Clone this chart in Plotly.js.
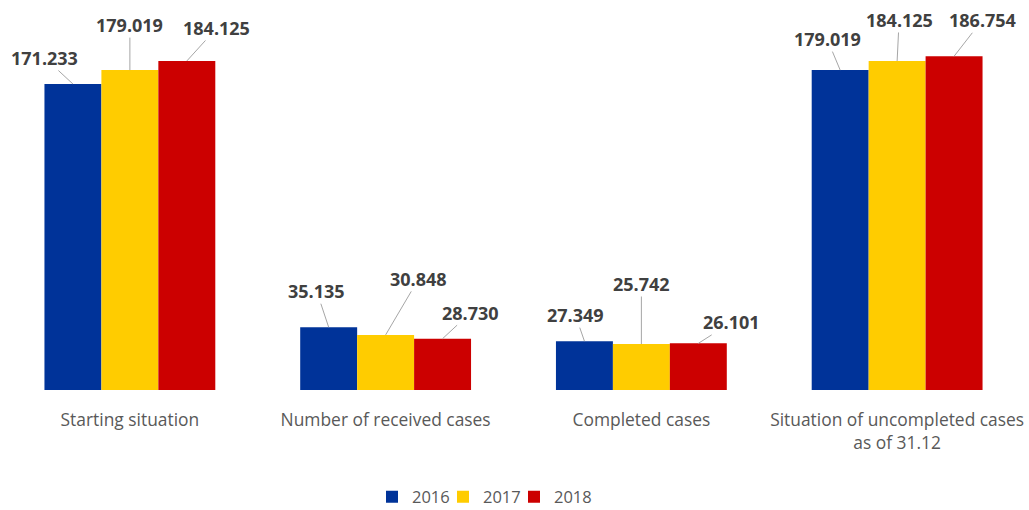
<!DOCTYPE html>
<html>
<head>
<meta charset="utf-8">
<script src="https://cdn.plot.ly/plotly-3.0.1.min.js"></script>
<style>html,body{margin:0;padding:0;background:#fff;}#chart{width:1029px;height:510px;}</style>
</head>
<body>
<div id="chart"></div>
<script>
const categories = ["Starting situation", "Number of received cases", "Completed cases", "Situation of uncompleted cases<br>as of 31.12"];
const seriesNames = ["2016", "2017", "2018"];
const values2016 = [171233, 35135, 27349, 179019];
const values2017 = [179019, 30848, 25742, 184125];
const values2018 = [184125, 28730, 26101, 186754];
const colors = ["#003399", "#FFCC00", "#CC0000"];
// label offsets (px) for leader-line callouts: [series][category]
const labelAX = [[-28, -12, -9, -13], [0, 33, 0, 2], [30, 28, 33, 28]];
const labelAY = [[-26, -36, -26, -31], [-45, -56, -60, -41], [-33, -26, -21, -36]];
const legendLeft = [372, 443, 514];

const allSeries = [values2016, values2017, values2018];
const fmt = v => {
  const s = String(v);
  return s.slice(0, s.length - 3) + "." + s.slice(s.length - 3);
};
const xs = categories.map((c, i) => i);
const bargap = 0.332;
const barW = (1 - bargap) / 3;
const font = "Open Sans, Noto Sans, sans-serif";
const legendIds = ["legend", "legend2", "legend3"];

const traces = allSeries.map((vals, s) => ({
  type: "bar",
  name: seriesNames[s],
  x: xs,
  y: vals,
  legend: legendIds[s],
  marker: {color: colors[s], line: {width: 0}},
  hoverinfo: "none"
}));

const annotations = [];
allSeries.forEach((vals, s) => {
  vals.forEach((v, i) => {
    annotations.push({
      x: i + (s - 1) * barW,
      y: v,
      xref: "x", yref: "y",
      text: fmt(v),
      showarrow: true,
      arrowhead: 0,
      arrowwidth: 1,
      arrowcolor: "#A6A6A6",
      standoff: 0,
      ax: labelAX[s][i],
      ay: labelAY[s][i],
      font: {family: font, size: 18, color: "#404040", weight: 700},
      borderpad: 0
    });
  });
});

const layout = {
  width: 1029, height: 510,
  margin: {l: 2, r: 4, t: 10, b: 120, autoexpand: false},
  paper_bgcolor: "#ffffff",
  plot_bgcolor: "#ffffff",
  barmode: "group",
  bargap: bargap,
  bargroupgap: 0,
  showlegend: true,
  xaxis: {
    tickmode: "array",
    tickvals: xs,
    ticktext: categories,
    range: [-0.5, 3.5],
    showgrid: false,
    zeroline: false,
    showline: false,
    ticks: "",
    automargin: false,
    ticklabelstandoff: 18,
    tickfont: {family: font, size: 17.4, color: "#595959"}
  },
  yaxis: {
    range: [0, 212650],
    visible: false,
    showgrid: false,
    zeroline: false
  },
  annotations: annotations
};
legendIds.forEach((id, s) => {
  layout[id] = {
    orientation: "h",
    x: (legendLeft[s] - 2) / 1023, xanchor: "left",
    y: -0.2816, yanchor: "middle",
    font: {family: font, size: 16.5, color: "#595959"},
    itemwidth: 30,
    bgcolor: "rgba(0,0,0,0)"
  };
});

Plotly.newPlot("chart", traces, layout, {displayModeBar: false, staticPlot: true});
</script>
</body>
</html>
